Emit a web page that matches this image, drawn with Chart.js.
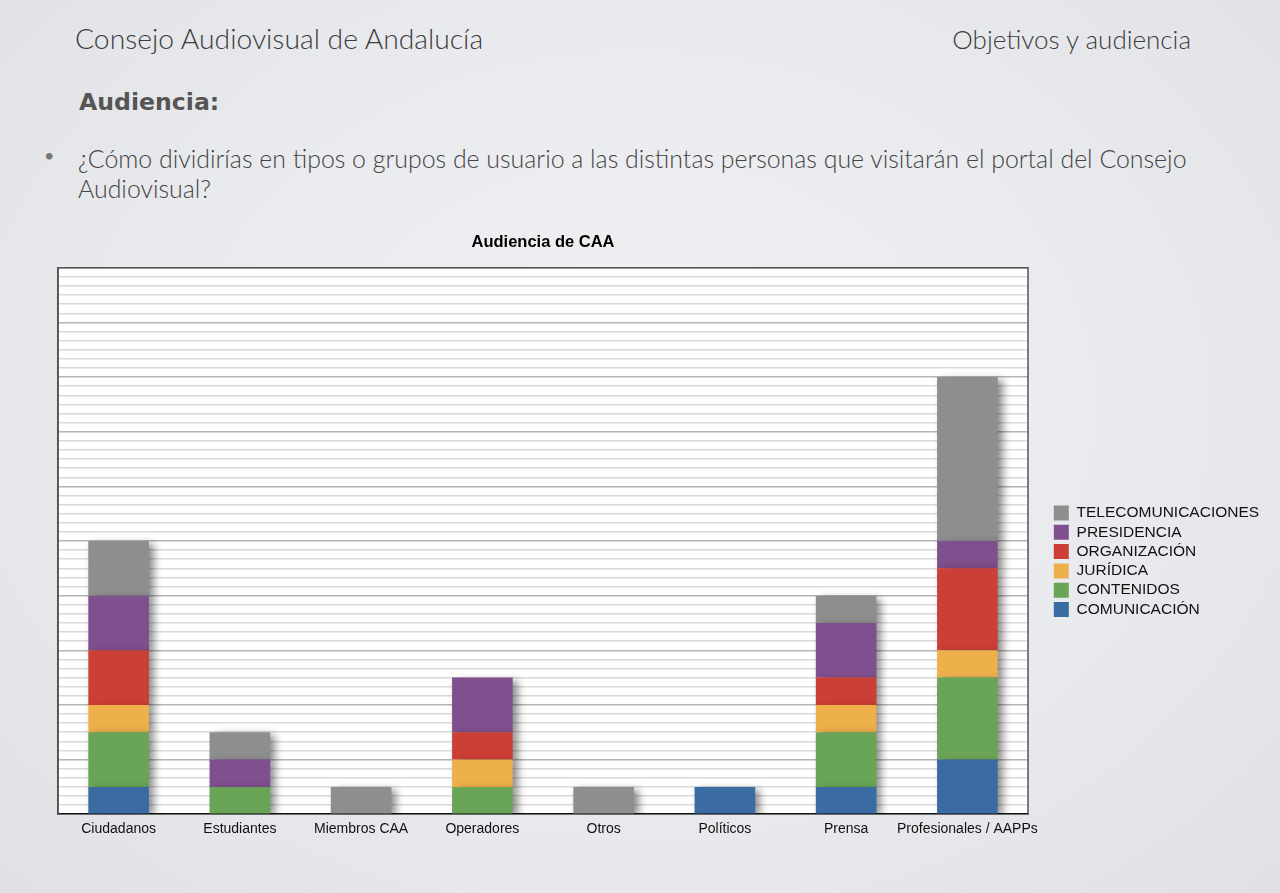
<!DOCTYPE html>
<html>
<head>
<meta charset="utf-8">
<script src="https://cdn.jsdelivr.net/npm/chart.js@4.4.1/dist/chart.umd.min.js"></script>
<style>
  html, body { margin: 0; padding: 0; }
  body {
    width: 1280px; height: 893px; position: relative; overflow: hidden;
    background: radial-gradient(ellipse at 50% 45%, #f1f2f4 0%, #e9eaed 55%, #dfe1e5 100%);
    font-family: Lato, "Open Sans", sans-serif;
  }
  .hdr { position: absolute; top: 21px; font-weight: 300; color: #3c3c3c; }
  #hl { left: 75px; font-size: 28.3px; }
  #hr { right: 89px; top: 23px; font-size: 26px; }
  #sub { position: absolute; left: 79px; top: 88px; font-family: "DejaVu Sans", sans-serif; font-size: 23.6px; font-weight: bold; color: #555; }
  #bullet { position: absolute; left: 44px; top: 144px; font-size: 18px; color: #777; }
  #q { position: absolute; left: 78px; top: 143px; width: 1190px; font-size: 24.9px; font-weight: 300; line-height: 30px; color: #444; }
  #c { position: absolute; left: 0; top: 0; }
</style>
</head>
<body>
<div class="hdr" id="hl">Consejo Audiovisual de Andalucía</div>
<div class="hdr" id="hr">Objetivos y audiencia</div>
<div id="sub">Audiencia:</div>
<div id="bullet">•</div>
<div id="q">¿Cómo dividirías en tipos o grupos de usuario a las distintas personas que visitarán el portal del Consejo<br>Audiovisual?</div>
<canvas id="c" width="1280" height="893"></canvas>
<script>
// audience groups (x axis)
const groups = ['Ciudadanos', 'Estudiantes', 'Miembros CAA', 'Operadores', 'Otros', 'Políticos', 'Prensa', 'Profesionales / AAPPs'];

// departments, bottom of the stack first
const comunicacion      = [1, 0, 0, 0, 0, 1, 1, 2];
const contenidos        = [2, 1, 0, 1, 0, 0, 2, 3];
const juridica          = [1, 0, 0, 1, 0, 0, 1, 1];
const organizacion      = [2, 0, 0, 1, 0, 0, 1, 3];
const presidencia       = [2, 1, 0, 2, 0, 0, 2, 1];
const telecomunicaciones = [2, 1, 1, 0, 1, 0, 1, 6];

const yMax = 20;

// white plot background + frame round the plot area
const plotFrame = {
    id: 'plotFrame',
    beforeDraw(chart) {
        const { ctx, chartArea: a } = chart;
        ctx.save();
        ctx.fillStyle = '#ffffff';
        ctx.fillRect(a.left, a.top, a.width, a.height);
        ctx.restore();
    },
    afterDraw(chart) {
        const { ctx, chartArea: a } = chart;
        ctx.save();
        ctx.strokeStyle = '#555';
        ctx.lineWidth = 1.5;
        ctx.beginPath();
        ctx.moveTo(a.left, a.bottom);
        ctx.lineTo(a.left, a.top);
        ctx.lineTo(a.right, a.top);
        ctx.lineTo(a.right, a.bottom);
        ctx.stroke();
        ctx.restore();
    }
};

// soft drop shadow behind the bars
const barShadow = {
    id: 'barShadow',
    beforeDatasetsDraw(chart) {
        const ctx = chart.ctx;
        ctx.save();
        ctx.shadowColor = 'rgba(0, 0, 0, 0.45)';
        ctx.shadowBlur = 8;
        ctx.shadowOffsetX = 5;
        ctx.shadowOffsetY = 3;
    },
    afterDatasetsDraw(chart) {
        chart.ctx.restore();
    }
};

function ds(label, data, color) {
    return { label, data, backgroundColor: color, borderWidth: 0, barPercentage: 0.5, categoryPercentage: 1 };
}

new Chart(document.getElementById('c'), {
    type: 'bar',
    data: {
        labels: groups,
        datasets: [
            ds('COMUNICACIÓN', comunicacion, '#3a6ba3'),
            ds('CONTENIDOS', contenidos, '#6aa557'),
            ds('JURÍDICA', juridica, '#eeb04b'),
            ds('ORGANIZACIÓN', organizacion, '#cc3f37'),
            ds('PRESIDENCIA', presidencia, '#804f8e'),
            ds('TELECOMUNICACIONES', telecomunicaciones, '#8e8e8e')
        ]
    },
    options: {
        responsive: false,
        animation: false,
        layout: { padding: { left: 0, top: 233, right: 20, bottom: 48 } },
        scales: {
            x: {
                stacked: true,
                grid: { display: false, drawTicks: false },
                border: { color: '#111', width: 1.5 },
                ticks: { color: '#111', padding: 7, maxRotation: 0, autoSkip: false, font: { family: 'Liberation Sans', size: 14 } }
            },
            y: {
                stacked: true,
                min: 0,
                max: yMax,
                ticks: { display: false, stepSize: 1 / 3 },
                grid: {
                    drawTicks: false,
                    lineWidth: 1.5,
                    color: c => (c.index % 6 === 0 ? '#b4b4b4' : '#dadada')
                },
                border: { color: '#333', width: 1.5 },
                afterFit(scale) { scale.width = 58; }
            },
            gap: {
                position: 'right',
                grid: { display: false },
                border: { display: false },
                ticks: { display: false },
                afterFit(scale) { scale.width = 22; }
            }
        },
        plugins: {
            title: {
                display: true,
                fullSize: false,
                text: 'Audiencia de CAA',
                color: '#000',
                font: { family: 'Liberation Sans', size: 16.5, weight: 'bold' },
                padding: { top: 0, bottom: 15 }
            },
            legend: {
                position: 'right',
                fullSize: false,
                reverse: true,
                title: { display: true, text: '', font: { size: 10 }, padding: { top: 14, bottom: 14.5 } },
                labels: {
                    boxWidth: 15,
                    boxHeight: 15,
                    padding: 3.8,
                    color: '#111',
                    font: { family: 'Liberation Sans', size: 15.5 }
                }
            },
            tooltip: { enabled: false }
        }
    },
    plugins: [plotFrame, barShadow]
});
</script>
</body>
</html>
